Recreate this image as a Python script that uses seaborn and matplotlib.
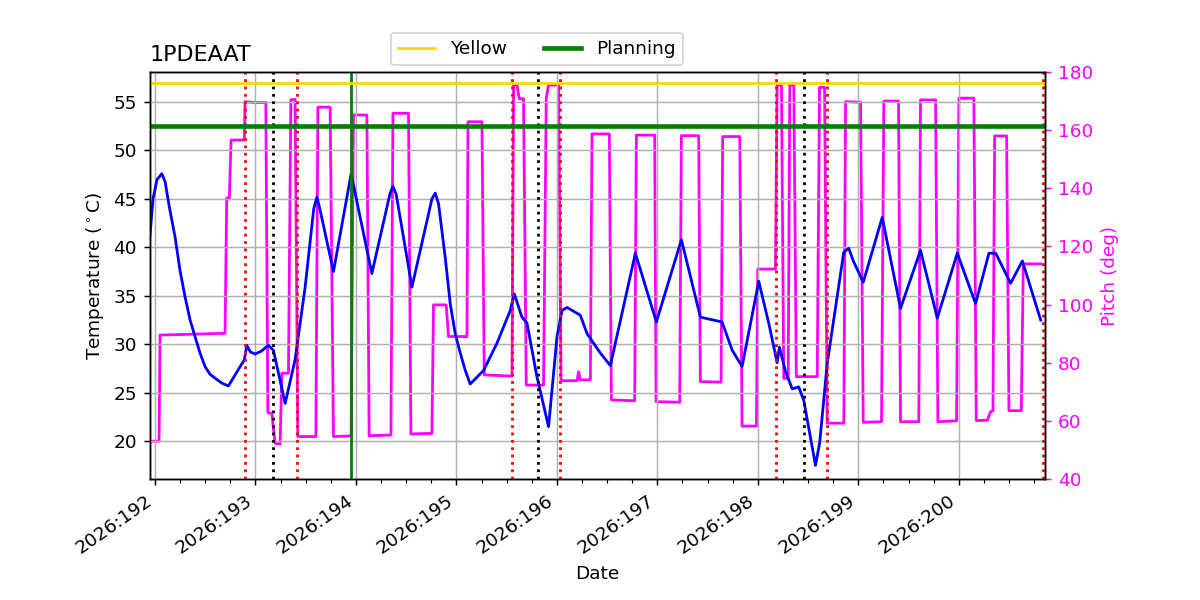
import numpy as np
import pandas as pd
import matplotlib
matplotlib.use("Agg")
import matplotlib.pyplot as plt
import matplotlib.dates as mdates
from matplotlib.lines import Line2D
import seaborn as sns

# ---------------- data (day-of-year 2026, fractional) ----------------
temp_doy = [191.950, 191.980, 192.020, 192.067, 192.100, 192.140, 192.199, 192.249,
            192.299, 192.349, 192.398, 192.448, 192.498, 192.548, 192.598, 192.664,
            192.730, 192.889, 192.913, 192.950, 192.996, 193.060, 193.128, 193.178,
            193.295, 193.394, 193.494, 193.580, 193.611, 193.640, 193.776, 193.952,
            194.158, 194.340, 194.368, 194.400, 194.557, 194.756, 194.789, 194.822,
            194.888, 194.938, 194.988, 195.038, 195.088, 195.137, 195.270, 195.403,
            195.536, 195.576, 195.652, 195.702, 195.802, 195.917, 196.001, 196.051,
            196.101, 196.233, 196.300, 196.432, 196.532, 196.781, 196.990, 197.239,
            197.428, 197.644, 197.744, 197.843, 198.009, 198.108, 198.192, 198.215,
            198.275, 198.342, 198.407, 198.457, 198.574, 198.616, 198.690, 198.855,
            198.905, 198.950, 199.049, 199.238, 199.420, 199.619, 199.786, 199.985,
            200.167, 200.300, 200.367, 200.516, 200.633, 200.815]
temp_val = [41.3, 45.0, 47.0, 47.6, 46.8, 44.3, 41.1, 37.6,
            34.9, 32.5, 30.8, 29.1, 27.7, 26.9, 26.5, 26.0,
            25.7, 28.4, 29.9, 29.2, 29.0, 29.3, 29.9, 29.4,
            23.9, 28.4, 35.9, 44.0, 45.2, 44.0, 37.5, 47.6,
            37.3, 45.6, 46.3, 45.5, 35.9, 45.0, 45.6, 44.5,
            39.0, 34.2, 31.1, 29.1, 27.3, 25.9, 27.3, 30.1,
            33.5, 35.2, 32.8, 32.2, 26.6, 21.5, 30.8, 33.5,
            33.8, 33.0, 31.1, 29.1, 27.8, 39.4, 32.3, 40.8,
            32.8, 32.3, 29.4, 27.7, 36.5, 32.2, 28.1, 29.7,
            27.2, 25.4, 25.6, 24.2, 17.5, 19.9, 28.0, 39.5,
            39.9, 38.6, 36.4, 43.1, 33.7, 39.7, 32.7, 39.4,
            34.2, 39.4, 39.4, 36.3, 38.6, 32.5]

pitch_doy = [191.950, 192.040, 192.050, 192.697, 192.714, 192.740, 192.757, 192.889,
             192.896, 192.996, 193.103, 193.123, 193.162, 193.195, 193.245, 193.262,
             193.328, 193.352, 193.394, 193.421, 193.601, 193.621, 193.743, 193.776,
             193.952, 193.975, 194.109, 194.131, 194.348, 194.368, 194.523, 194.547,
             194.756, 194.772, 194.898, 194.921, 195.105, 195.115, 195.254, 195.277,
             195.553, 195.569, 195.603, 195.625, 195.668, 195.695, 195.867, 195.894,
             195.917, 196.017, 196.041, 196.200, 196.216, 196.233, 196.333, 196.349,
             196.522, 196.542, 196.774, 196.791, 196.973, 196.987, 197.222, 197.239,
             197.411, 197.428, 197.634, 197.650, 197.820, 197.843, 197.986, 197.999,
             198.175, 198.192, 198.235, 198.258, 198.302, 198.318, 198.358, 198.383,
             198.591, 198.614, 198.664, 198.690, 198.856, 198.873, 199.022, 199.049,
             199.231, 199.254, 199.400, 199.420, 199.602, 199.619, 199.769, 199.792,
             199.978, 200.001, 200.150, 200.174, 200.284, 200.317, 200.340, 200.357,
             200.476, 200.499, 200.622, 200.642, 200.815]
pitch_val = [53.0, 53.0, 89.5, 90.1, 136.6, 136.6, 156.6, 156.6,
             169.8, 169.5, 169.5, 62.8, 62.6, 52.3, 52.0, 76.4,
             76.4, 170.4, 170.6, 54.6, 54.6, 167.9, 167.9, 54.6,
             54.8, 165.2, 165.2, 54.9, 55.1, 165.8, 165.8, 55.5,
             55.7, 99.9, 99.9, 89.0, 89.0, 162.9, 162.9, 75.8,
             75.4, 175.5, 175.5, 170.8, 170.8, 72.3, 72.3, 171.0,
             175.5, 175.5, 73.8, 73.8, 76.9, 74.1, 74.1, 158.7,
             158.7, 67.2, 66.9, 158.3, 158.3, 66.6, 66.4, 158.1,
             158.1, 73.5, 73.3, 157.8, 157.8, 58.2, 58.2, 112.2,
             112.2, 175.5, 175.5, 74.6, 74.6, 175.5, 175.5, 75.2,
             75.2, 174.7, 174.7, 59.2, 59.2, 169.8, 169.6, 59.5,
             59.7, 170.0, 170.0, 59.7, 59.7, 170.4, 170.4, 59.7,
             60.0, 171.0, 171.0, 60.1, 60.2, 63.2, 63.4, 158.0,
             158.0, 63.5, 63.5, 114.0, 114.0]

yellow_limit = 57.0
planning_limit = 52.5
red_events = [192.896, 193.414, 195.556, 196.034, 198.185, 198.693, 200.835]
black_events = [193.175, 195.815, 198.464]
green_events = [193.952]
x_range = [191.95, 200.86]
title = "1PDEAAT"

# ---------------- helpers ----------------
base = pd.Timestamp("2026-01-01")
def doy_to_dt(v):
    return base + pd.to_timedelta(np.asarray(v, dtype=float) - 1.0, unit="D")

temp_df = pd.DataFrame({"time": doy_to_dt(temp_doy), "temp": temp_val})
pitch_df = pd.DataFrame({"time": doy_to_dt(pitch_doy), "pitch": pitch_val})

# ---------------- figure ----------------
DPI = 1200 / 9.0
fig, ax1 = plt.subplots(figsize=(9, 4.5), dpi=DPI)
ax2 = ax1.twinx()

sns.lineplot(data=pitch_df, x="time", y="pitch", ax=ax2, color="magenta",
             lw=1.5, estimator=None, sort=False)
sns.lineplot(data=temp_df, x="time", y="temp", ax=ax1, color="blue",
             lw=1.5, estimator=None, sort=False)

ax1.set_zorder(ax2.get_zorder() + 1)
ax1.patch.set_visible(False)

for d in doy_to_dt(red_events):
    ax1.axvline(d, color="red", ls=":", lw=1.5)
for d in doy_to_dt(black_events):
    ax1.axvline(d, color="black", ls=":", lw=1.5)
for d in doy_to_dt(green_events):
    ax1.axvline(d, color="green", ls="-", lw=1.5)

ax1.axhline(yellow_limit, color="gold", lw=1.5)
ax1.axhline(planning_limit, color="green", lw=2.5)

xl = doy_to_dt(x_range)
ax1.set_xlim(xl[0], xl[1])
ax1.set_ylim(16.1, 58.1)
ax2.set_ylim(40, 180)

ax1.xaxis.set_major_locator(mdates.DayLocator())
ax1.xaxis.set_minor_locator(mdates.HourLocator(byhour=[6, 12, 18]))
ax1.xaxis.set_major_formatter(mdates.DateFormatter("%Y:%j"))
fig.autofmt_xdate()
plt.setp(ax1.get_xticklabels(), rotation=35, ha="right")

ax1.grid(True, color="#b0b0b0", lw=0.8)
ax1.set_xlabel("Date")
ax1.set_ylabel(r"Temperature ($^\circ$C)")
ax2.set_ylabel("Pitch (deg)", color="magenta")
ax2.tick_params(axis="y", colors="magenta")
ax2.set_xlabel("")
ax1.set_title(title, loc="left")

handles = [Line2D([], [], color="gold", lw=1.5),
           Line2D([], [], color="green", lw=2.5)]
ax1.legend(handles, ["Yellow", "Planning"], ncol=2, loc="center",
           bbox_to_anchor=(0.432, 1.0565))

fig.subplots_adjust(left=0.125, right=0.871, top=0.88, bottom=0.2017)
fig.savefig("out.png", dpi=DPI)
